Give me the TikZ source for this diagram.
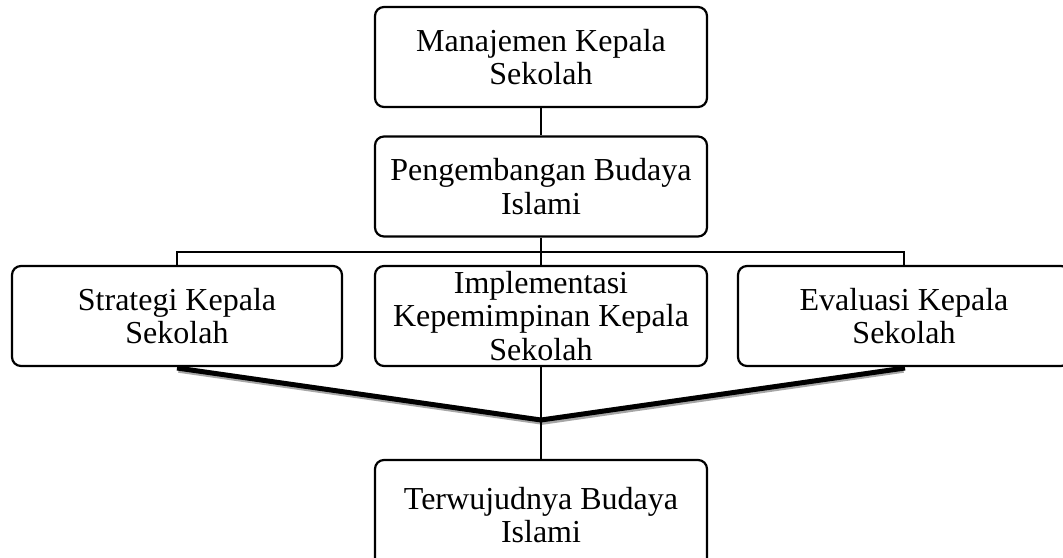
\documentclass[tikz,border=0pt]{standalone}
\usepackage{fontspec}
\setmainfont{Liberation Serif}
\begin{document}
\begin{tikzpicture}[x=1pt,y=-1pt,
  box/.style={draw=black,line width=2.2pt,rounded corners=9pt,fill=white,
    minimum width=332pt,minimum height=100pt,align=center,inner sep=0pt,
    font=\fontsize{32}{33.5}\selectfont},
  conn/.style={draw=black,line width=2.2pt},
  thick line/.style={draw=black,line width=5pt},
  shade line/.style={draw=black!35,line width=4.5pt}]
\useasboundingbox (0,0) rectangle (1063,557);
\clip (0,0) rectangle (1063,557);
% positions
\coordinate (jl) at (177,368);
\coordinate (jr) at (905,368);
\coordinate (jm) at (541,420);
% shadow of thick converging lines
\draw[shade line] ([shift={(1.5,2.5)}]jl) -- ([shift={(1.5,2.5)}]jm) -- ([shift={(-1.5,2.5)}]jr);
\draw[thick line] (jl) -- (jm) -- (jr);
% boxes
\node[box] (top) at (541,57) {Manajemen Kepala\\Sekolah};
\node[box] (dev) at (541,186.5) {Pengembangan Budaya\\Islami};
\node[box,minimum width=330pt] (str) at (177,316) {Strategi Kepala\\Sekolah};
\node[box] (imp) at (541,316) {Implementasi\\Kepemimpinan Kepala\\Sekolah};
\node[box] (eva) at (904,316) {Evaluasi Kepala\\Sekolah};
\node[box,minimum height=110pt] (res) at (541,515) {Terwujudnya Budaya\\Islami};
% connectors
\coordinate (bar) at (541,252);
\draw[conn] (top.south) -- (dev.north);
\draw[conn] (dev.south) -- (bar);
\draw[conn] (str.north) |- (bar) -| (eva.north);
\draw[conn] (bar) -- (imp.north);
\draw[conn] (imp.south) -- (res.north);
\end{tikzpicture}
\end{document}
